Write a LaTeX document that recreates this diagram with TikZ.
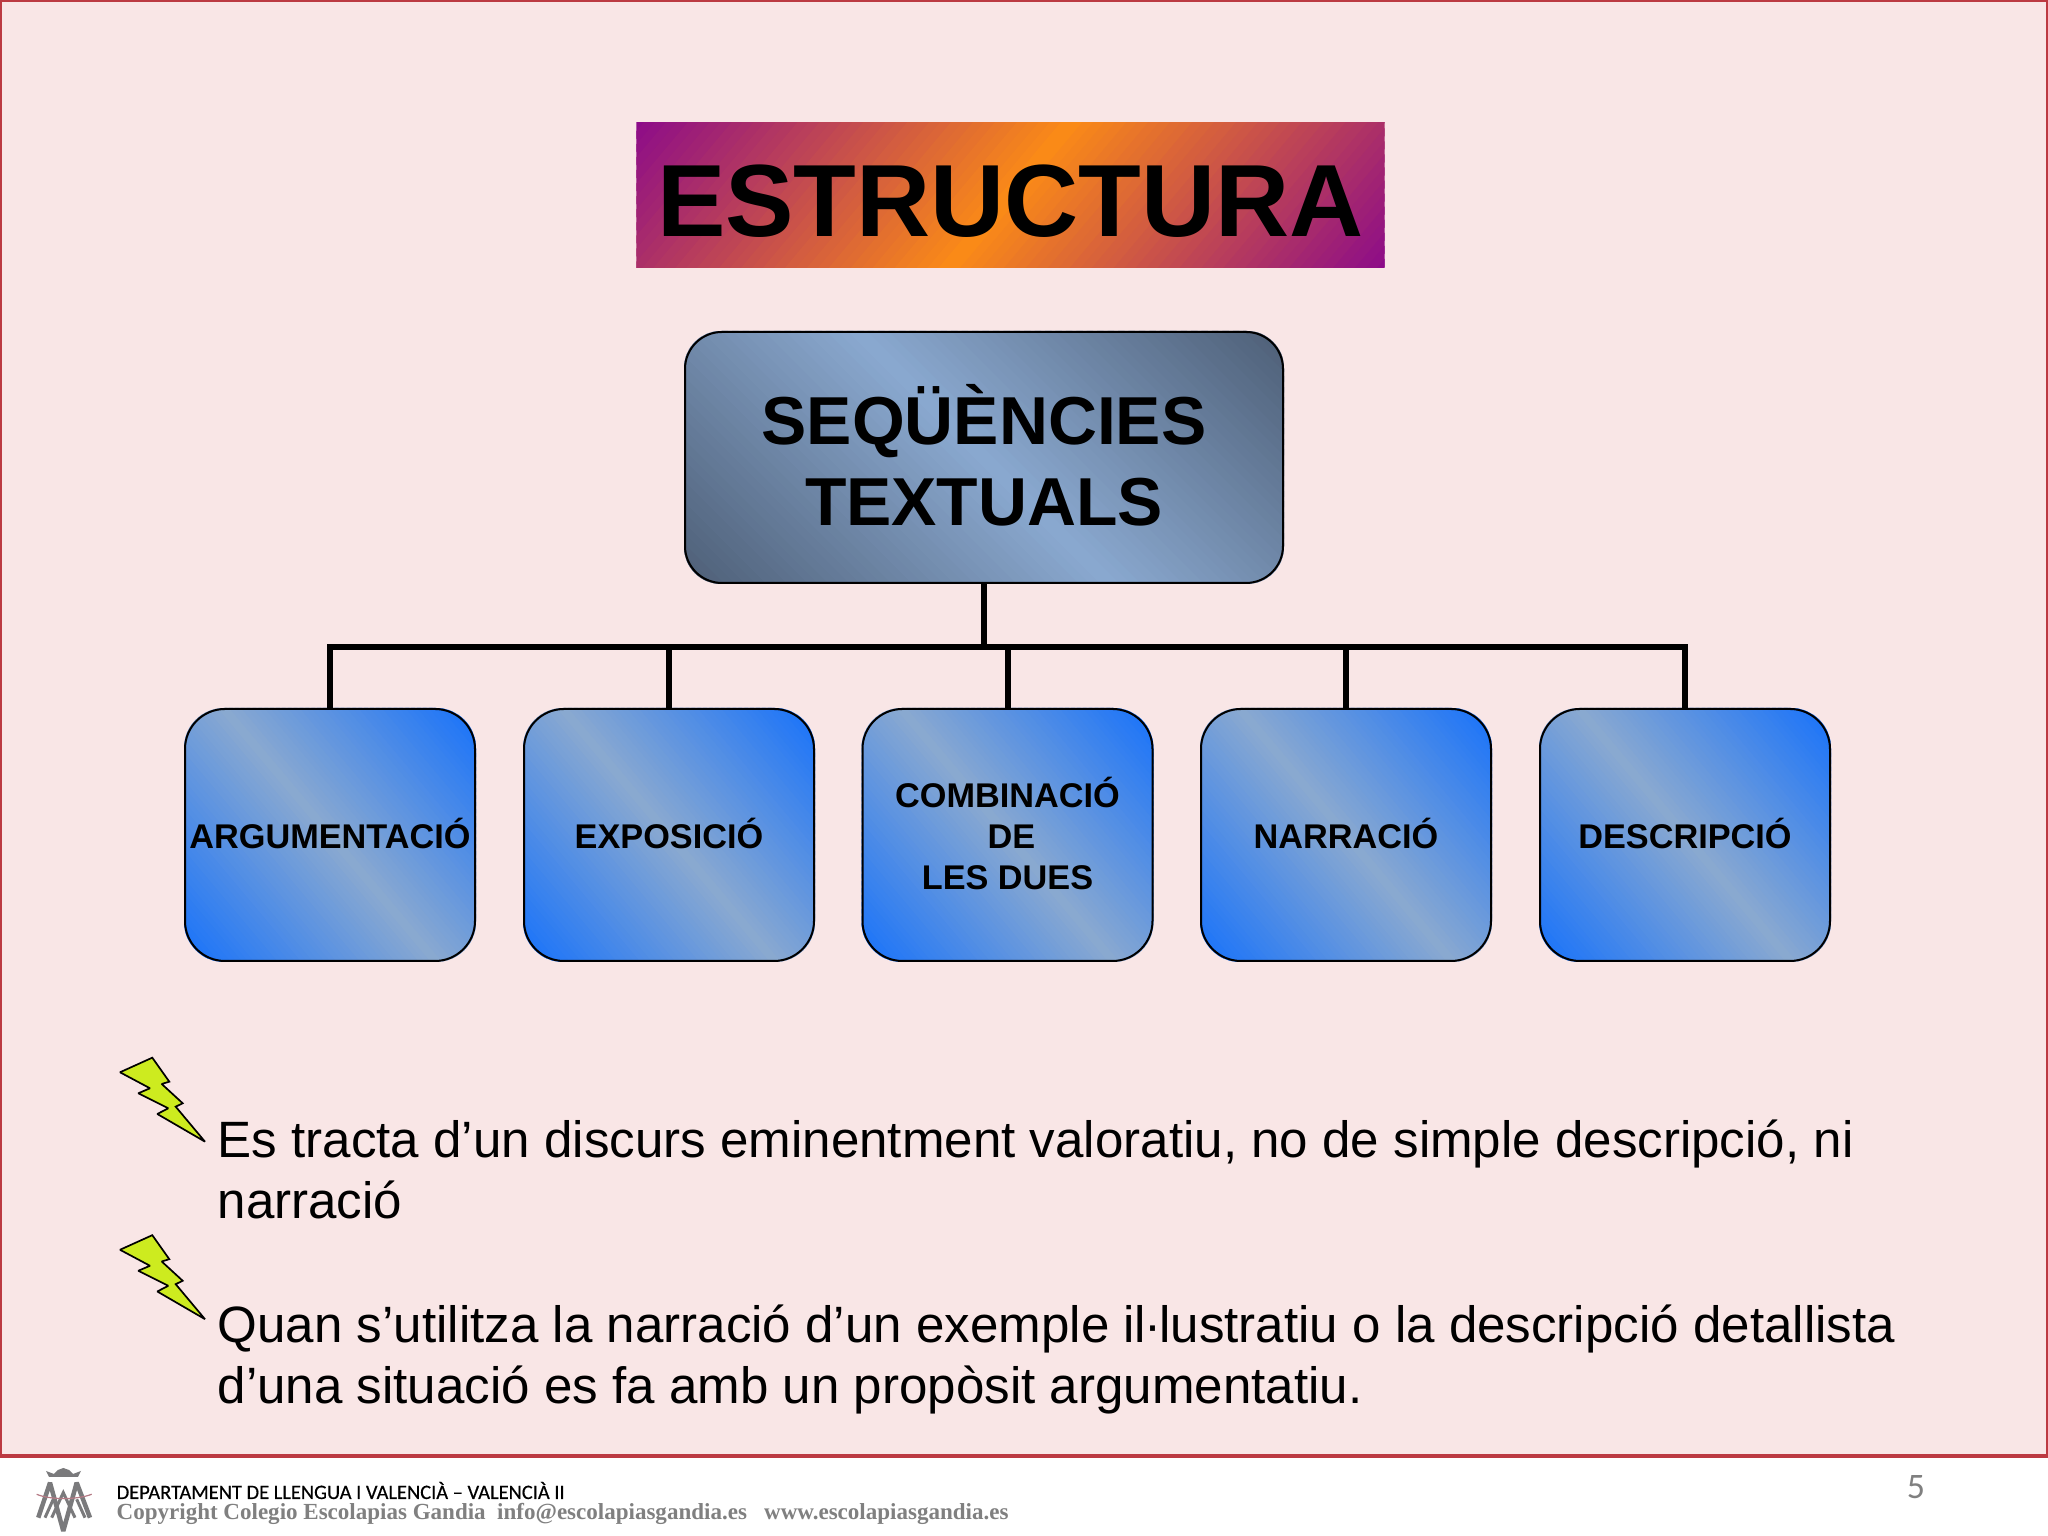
\documentclass[tikz,border=0pt]{standalone}
\usepackage{fontspec}
\setmainfont{Liberation Sans}
\newfontfamily\footfont[FakeBold=0.4]{Carlito}
\newfontfamily\pagefont{Carlito}
\newfontfamily\copyfont{Liberation Serif}
\usepackage{tikz}
\definecolor{slidepink}{HTML}{F9E6E6}
\definecolor{slidered}{HTML}{BC3A42}
\definecolor{boltgreen}{HTML}{CDEB1F}
\definecolor{titlepurple}{HTML}{8B0A8A}
\definecolor{titleorange}{HTML}{FB8B16}
\definecolor{steeldark}{HTML}{4F6078}
\definecolor{steellight}{HTML}{8AA9D0}
\definecolor{boxblue}{HTML}{1E75F8}
\definecolor{logogray}{HTML}{7A7A7C}
\definecolor{logorose}{HTML}{B57A85}
\pgfdeclarelayer{back}
\pgfdeclarelayer{grad}
\pgfsetlayers{back,grad,main}
\newcommand{\shadebox}[6]{
	\begin{pgfonlayer}{grad}
	\begin{scope}
	\clip[rounded corners=#6] (#1.south west) rectangle (#1.north east);
	\begin{scope}[shift={(#1.center)},rotate=#4]
	\foreach \i in {-40,...,39} {
		\pgfmathtruncatemacro\mixval{round(100*abs(\i+0.5)/40)}
		\fill[#3!\mixval!#2] ({\i*#5/40},-6) rectangle ({(\i+1.6)*#5/40},6); }
	\end{scope}
	\end{scope}
	\end{pgfonlayer}}
\tikzset{
	leafbox/.style={draw=black,line width=0.02cm,rounded corners=0.4cm,minimum width=2.9cm,minimum height=2.52cm,inner sep=0pt,
		align=center,font=\fontsize{9.75pt}{11.7pt}\bfseries,execute at end node={\rule[-0.04cm]{0pt}{0pt}}},
	branch/.style={line width=0.06cm},
	bodytext/.style={anchor=base west,inner sep=0pt,font=\fontsize{14.54pt}{17.5pt}\selectfont},
}
\begin{document}
\begin{tikzpicture}
\useasboundingbox (0,0) rectangle (20.48,15.36);
%background
\begin{pgfonlayer}{back}
\fill[white] (0,0) rectangle (20.48,15.36);
\draw[slidered,fill=slidepink,line width=0.04cm] (0,0.8) rectangle (20.48,15.36);
\end{pgfonlayer}
%title
\node[minimum width=7.47cm,minimum height=1.44cm,inner sep=0pt,text height=0.85cm,text depth=0.01cm,font=\fontsize{29.2pt}{30pt}\bfseries] (title) at (10.105,13.41) {ESTRUCTURA};
\shadebox{title}{titleorange}{titlepurple}{-40}{3.36}{0cm}
%main box
\node[draw=black,line width=0.02cm,rounded corners=0.37cm,minimum width=5.98cm,minimum height=2.51cm,inner sep=0pt,align=center,font=\fontsize{19.3pt}{23.3pt}\bfseries] (seq) at (9.84,10.785) {SEQÜÈNCIES\\TEXTUALS\rule[-0.05cm]{0pt}{0pt}};
\shadebox{seq}{steellight}{steeldark}{45}{2.95}{0.37cm}
%leaves
\node[leafbox] (arg) at (3.3,7.01) {ARGUMENTACIÓ};
\node[leafbox] (expo) at (6.69,7.01) {EXPOSICIÓ};
\node[leafbox] (comb) at (10.075,7.01) {COMBINACIÓ\\\hspace*{0.08cm}DE\\LES DUES};
\node[leafbox] (narr) at (13.46,7.01) {NARRACIÓ};
\node[leafbox] (desc) at (16.85,7.01) {DESCRIPCIÓ};
\foreach \leaf in {arg,expo,comb,narr,desc} {
	\shadebox{\leaf}{steellight}{boxblue}{40}{1.8}{0.4cm} }
%connectors
\coordinate (bus) at (9.84,8.89);
\draw[branch] (seq.south) -- (bus);
\foreach \leaf in {arg,expo,comb,narr,desc} {
	\draw[branch] (bus) -| (\leaf.north); }
%bolts
\foreach \y in {0,-1.775} {
	\draw[fill=boltgreen,line width=0.017cm,miter limit=2] (1.2,4.637+\y) -- (1.523,4.783+\y) -- (1.693,4.543+\y) -- (1.617,4.52+\y) -- (1.827,4.327+\y) -- (1.757,4.293+\y) -- (2.05,3.943+\y) -- (1.573,4.22+\y) -- (1.683,4.277+\y) -- (1.383,4.427+\y) -- (1.5,4.477+\y) -- cycle; }
%text
\node[bodytext] (line1) at (2.17,3.78) {Es tracta d’un discurs eminentment valoratiu, no de simple descripció, ni};
\node[bodytext] (line2) at (2.17,3.17) {narració};
\node[bodytext] (line3) at (2.17,1.93) {Quan s’utilitza la narració d’un exemple il\kern-0.02cm·\kern-0.02cm lustratiu o la descripció detallista};
\node[bodytext] (line4) at (2.17,1.32) {d’una situació es fa amb un propòsit argumentatiu.};
%logo
\fill[logogray] (0.49,0.59) -- (0.46,0.65) -- (0.54,0.62) -- (0.58,0.66) -- (0.633,0.68) -- (0.69,0.66) -- (0.73,0.62) -- (0.81,0.65) -- (0.78,0.59) -- cycle;
\draw[logogray,line width=0.045cm,miter limit=2] (0.383,0.183) -- (0.5,0.533) -- (0.633,0.05) -- (0.767,0.533) -- (0.9,0.183);
\draw[logogray,line width=0.03cm] (0.45,0.183) -- (0.533,0.367);
\draw[logogray,line width=0.03cm] (0.85,0.183) -- (0.767,0.367);
\draw[logogray,line width=0.03cm] (0.517,0.183) -- (0.633,0.433) -- (0.75,0.183);
\draw[logorose,line width=0.012cm] (0.367,0.417) .. controls (0.5,0.36) and (0.77,0.36) .. (0.917,0.417);
%footer
\node[anchor=base west,inner sep=0pt,font=\footfont\fontsize{5.82pt}{6pt}\selectfont] (dept) at (1.16,0.37) {DEPARTAMENT DE LLENGUA I VALENCIÀ – VALENCIÀ II};
\node[anchor=base west,inner sep=0pt,text=black!50,font=\copyfont\bfseries\fontsize{6.55pt}{7pt}\selectfont] (copy) at (1.16,0.16) {Copyright Colegio Escolapias Gandia\ \ info@escolapiasgandia.es\ \ \ www.escolapiasgandia.es};
\node[text=black!50,font=\pagefont\fontsize{10.2pt}{11pt}\selectfont,inner sep=0pt] (page) at (19.16,0.49) {5};
\end{tikzpicture}
\end{document}
